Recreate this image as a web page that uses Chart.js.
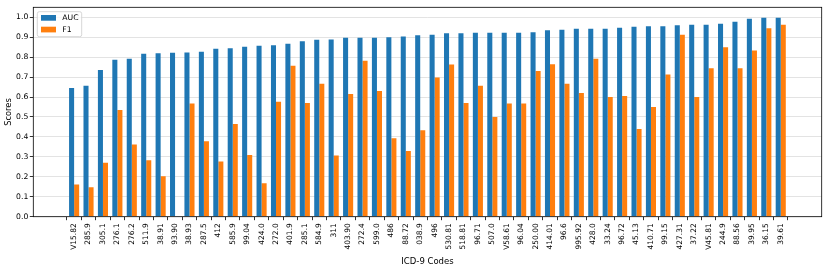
<!DOCTYPE html>
<html>
<head>
<meta charset="utf-8">
<script src="https://cdn.jsdelivr.net/npm/chart.js@4.4.1/dist/chart.umd.min.js"></script>
<style>
html, body { margin: 0; padding: 0; background: #fff; }
</style>
</head>
<body>
<canvas id="chart" width="830" height="272"></canvas>
<script>
// ICD-9 codes on the x axis
const codes = ["V15.82", "285.9", "305.1", "276.1", "276.2", "511.9", "38.91", "93.90", "38.93", "287.5",
  "412", "585.9", "99.04", "424.0", "272.0", "401.9", "285.1", "584.9", "311", "403.90",
  "272.4", "599.0", "486", "88.72", "038.9", "496", "530.81", "518.81", "96.71", "507.0",
  "V58.61", "96.04", "250.00", "414.01", "96.6", "995.92", "428.0", "33.24", "96.72", "45.13",
  "410.71", "99.15", "427.31", "37.22", "V45.81", "244.9", "88.56", "39.95", "36.15", "39.61"];

const auc = [0.645, 0.657, 0.735, 0.787, 0.792, 0.817, 0.820, 0.822, 0.823, 0.827,
  0.842, 0.845, 0.852, 0.857, 0.860, 0.867, 0.880, 0.887, 0.888, 0.897,
  0.897, 0.897, 0.900, 0.903, 0.910, 0.912, 0.920, 0.920, 0.922, 0.923,
  0.923, 0.923, 0.925, 0.935, 0.938, 0.942, 0.943, 0.943, 0.947, 0.953,
  0.955, 0.955, 0.960, 0.963, 0.963, 0.968, 0.978, 0.992, 0.998, 0.998];

const f1 = [0.162, 0.148, 0.270, 0.535, 0.362, 0.283, 0.203, 0, 0.567, 0.378,
  0.277, 0.465, 0.310, 0.168, 0.577, 0.757, 0.570, 0.667, 0.307, 0.615,
  0.782, 0.630, 0.393, 0.330, 0.433, 0.698, 0.763, 0.570, 0.657, 0.500,
  0.567, 0.567, 0.730, 0.765, 0.667, 0.620, 0.792, 0.600, 0.605, 0.440,
  0.550, 0.713, 0.912, 0.600, 0.745, 0.850, 0.745, 0.833, 0.945, 0.962];

const yTicks = [0, 0.1, 0.2, 0.3, 0.4, 0.5, 0.6, 0.7, 0.8, 0.9, 1.0];

const FONT = "'DejaVu Sans', sans-serif";

// box round the plot, like matplotlib spines
const frame = {
    id: "frame",
    afterDatasetsDraw(chart) {
        const { ctx, chartArea } = chart;
        ctx.save();
        ctx.strokeStyle = "#000";
        ctx.lineWidth = 0.8;
        ctx.strokeRect(chartArea.left, chartArea.top, chartArea.right - chartArea.left, chartArea.bottom - chartArea.top);
        ctx.restore();
    }
};

// legend inside the upper left corner
const innerLegend = {
    id: "innerLegend",
    afterDraw(chart) {
        const { ctx, chartArea } = chart;
        const x = chartArea.left + 4, y = chartArea.top + 4.4;
        const w = 44.4, h = 25;
        ctx.save();
        ctx.fillStyle = "rgba(255,255,255,0.8)";
        ctx.strokeStyle = "#cccccc";
        ctx.lineWidth = 0.8;
        ctx.beginPath();
        ctx.roundRect(x, y, w, h, 2);
        ctx.fill();
        ctx.stroke();
        ctx.font = "7.7px " + FONT;
        ctx.textBaseline = "middle";
        chart.data.datasets.forEach((ds, i) => {
            const ry = y + 3.3 + i * 11.7;
            ctx.fillStyle = ds.backgroundColor;
            ctx.fillRect(x + 3.7, ry, 15, 5.7);
            ctx.fillStyle = "#000";
            ctx.fillText(ds.label, x + 25, ry + 3);
        });
        ctx.restore();
    }
};

let ctx = document.getElementById("chart").getContext("2d");
let chart = new Chart(ctx, {
    type: "bar",
    data: {
        datasets: [{
            label: "AUC",
            data: auc.map((v, i) => ({ x: i, y: v })),
            backgroundColor: "#1f77b4"
        },
        {
            label: "F1",
            data: f1.map((v, i) => ({ x: i, y: v })),
            backgroundColor: "#ff7f0e"
        }]
    },
    options: {
        responsive: false,
        animation: false,
        layout: { padding: { top: 7.3, right: 8.3, left: 0, bottom: 0 } },
        datasets: { bar: { categoryPercentage: 0.7, barPercentage: 1.0 } },
        plugins: {
            legend: { display: false },
            tooltip: { enabled: false }
        },
        scales: {
            x: {
                type: "linear",
                min: -2.83,
                max: 51.84,
                offset: false,
                afterBuildTicks: (scale) => { scale.ticks = codes.map((c, i) => ({ value: i })); },
                afterFit: (scale) => { scale.height = 55.3; },
                border: { display: false },
                grid: { drawOnChartArea: false, drawTicks: true, tickLength: 3.5, tickColor: "#000", tickWidth: 0.8 },
                ticks: {
                    autoSkip: false,
                    minRotation: 90,
                    maxRotation: 90,
                    padding: 3,
                    color: "#000",
                    font: { family: FONT, size: 7.5 },
                    callback: (value) => codes[value]
                },
                title: {
                    display: true,
                    text: "ICD-9 Codes",
                    color: "#000",
                    font: { family: FONT, size: 8.5 },
                    padding: { top: 0, bottom: 5.2 }
                }
            },
            y: {
                min: 0,
                max: 1.05,
                afterBuildTicks: (scale) => { scale.ticks = yTicks.map(v => ({ value: v })); },
                afterFit: (scale) => { scale.width = 33.3; },
                border: { display: false },
                grid: { color: "#dcdcdc", lineWidth: 0.8, drawTicks: true, tickLength: 3.5, tickColor: "#000", tickWidth: 0.8 },
                ticks: {
                    padding: 1.5,
                    color: "#000",
                    font: { family: FONT, size: 7.7 },
                    callback: (value) => value.toFixed(1)
                },
                title: {
                    display: true,
                    text: "Scores",
                    color: "#000",
                    font: { family: FONT, size: 8.3 },
                    padding: { top: 4.3, bottom: 0 }
                }
            }
        }
    },
    plugins: [frame, innerLegend]
});
</script>
</body>
</html>
